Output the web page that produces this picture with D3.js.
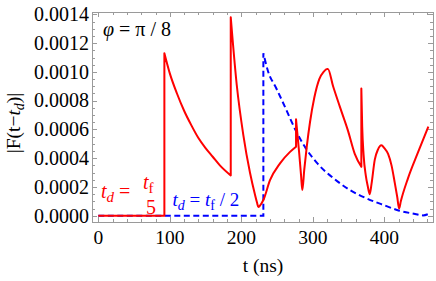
<!DOCTYPE html>
<html><head><meta charset="utf-8">
<script src="https://cdn.jsdelivr.net/npm/d3@7"></script>
</head>
<body style="margin:0;padding:0;background:#fff">
<svg id="chart" width="436" height="281" style="display:block"></svg>
<script>
// ---- data ----
const xTickValues = [0, 100, 200, 300, 400];
const yTickValues = [0, 0.0002, 0.0004, 0.0006, 0.0008, 0.0010, 0.0012, 0.0014];

// red series: t_d = t_f/5
const redT = [0, 92.4, 92.4, 100, 110, 120, 130, 140, 150, 160, 170, 185.2,
  185.2, 193.6, 202.8, 212.2, 219.2, 222, 223.8, 226, 230.8, 240.1, 254.1, 268.1, 276.5,
  276.5, 281, 283.5, 285.3, 288, 291.5, 296, 302, 309, 315, 320, 321, 328.3, 337.6, 349.2, 358.6, 367.8,
  367.8, 369, 371, 374, 377, 379.5, 382, 386.6, 391, 395.8, 400, 405.2, 410, 414.5, 418, 420.6, 423, 433, 447, 461.5];
const redV = [0, 0, 0.00113, 0.00099, 0.00085, 0.00073, 0.00063, 0.00054, 0.00047, 0.00041, 0.00035, 0.00028,
  0.00138, 0.000909, 0.000561, 0.000297, 0.000144, 0.00009, 0.00006, 0.00007, 0.000109, 0.000247, 0.000364, 0.000444, 0.00048,
  0.00067, 0.00043, 0.00028, 0.000178, 0.00032, 0.00048, 0.00065, 0.00082, 0.00095, 0.00100, 0.00102, 0.00102, 0.00090, 0.00076, 0.00059, 0.00043, 0.00034,
  0.000885, 0.00062, 0.00042, 0.00028, 0.00020, 0.00015, 0.00022, 0.00039, 0.00046, 0.00049, 0.00047, 0.00043, 0.00035, 0.00023, 0.00013, 0.00005, 0.0001, 0.00026, 0.00044, 0.00062];

// blue series: t_d = t_f/2
const blueT = [0, 230.8, 230.8, 237, 249, 261, 277, 290, 307, 329, 352, 375, 399, 421, 443, 454, 461.5];
const blueV = [0, 0, 0.00113, 0.00101, 0.000885, 0.000757, 0.000583, 0.00047, 0.00036, 0.00026, 0.000178, 0.000121, 0.000074, 0.000035, 0.000012, 0.000002, 0.000012];

// ---- layout ----
const FONT = "'Liberation Serif'";
const svg = d3.select("#chart");
const L = 92, R = 433, T = 12, B = 222;
const x = d3.scaleLinear().domain([-8.8, 468]).range([L, R]);
const y = d3.scaleLinear().domain([-0.0000438, 0.0014167]).range([B, T]);
const frameColor = "#9a9a9a";

// ticks
const xMinor = d3.range(0, 468, 20).filter(v => v % 100 !== 0);
const yMinor = d3.range(0, 0.00141, 0.00005).filter(v => Math.abs(v / 0.0002 - Math.round(v / 0.0002)) > 1e-6);
const g = svg.append("g");
function tick(x1, y1, x2, y2) {
  g.append("line").attr("x1", x1).attr("y1", y1).attr("x2", x2).attr("y2", y2)
    .attr("stroke", frameColor).attr("stroke-width", 1);
}
xTickValues.forEach(v => { const px = Math.round(x(v)) + 0.5; tick(px, B, px, B - 5); tick(px, T, px, T + 5); });
xMinor.forEach(v => { const px = Math.round(x(v)) + 0.5; tick(px, B, px, B - 3); tick(px, T, px, T + 3); });
yTickValues.forEach(v => { const py = Math.round(y(v)) + 0.5; tick(L, py, L + 5, py); tick(R, py, R - 5, py); });
yMinor.forEach(v => { const py = Math.round(y(v)) + 0.5; tick(L, py, L + 3, py); tick(R, py, R - 3, py); });

g.append("rect").attr("x", L + 0.5).attr("y", T + 0.5).attr("width", R - L).attr("height", B - T)
  .attr("fill", "none").attr("stroke", frameColor).attr("stroke-width", 1);

function txt(xp, yp, size, color) {
  return svg.append("text").attr("x", xp).attr("y", yp).attr("font-size", size)
    .style("font-family", FONT).attr("fill", color || "#000");
}

// tick labels
const fmt = d3.format(".4f");
yTickValues.forEach(v => txt(89, y(v), 20).attr("dy", "0.34em").attr("text-anchor", "end").text(fmt(v)));
xTickValues.forEach(v => txt(x(v), 244, 19.5).attr("text-anchor", "middle").text(v));

// axis titles
txt(263, 272, 19.5).attr("text-anchor", "middle").text("t (ns)");
const yl = svg.append("text").attr("transform", "translate(20,123) rotate(-90)")
  .attr("text-anchor", "middle").attr("font-size", 19.5).style("font-family", FONT);
yl.append("tspan").text("|F(t\u2212");
yl.append("tspan").attr("font-style", "italic").text("t");
yl.append("tspan").attr("font-style", "italic").attr("font-size", 14).attr("dy", 4).text("d");
yl.append("tspan").attr("dy", -4).text(")|");

// curves
const line = d3.line().x(d => x(d[0])).y(d => y(d[1])).curve(d3.curveMonotoneX);
function pathFor(Ts, Vs) {
  const segs = []; let cur = [];
  Ts.forEach((t, i) => {
    if (i > 0 && t === Ts[i - 1]) { segs.push(cur); cur = []; }
    cur.push([t, Vs[i]]);
  });
  segs.push(cur);
  let d = "";
  segs.forEach((s, i) => { let sd = line(s); if (i > 0) sd = "L" + sd.slice(1); d += sd; });
  return d;
}
const plot = svg.append("g");
plot.append("path").attr("d", pathFor(blueT, blueV)).attr("fill", "none")
  .attr("stroke", "#0000ff").attr("stroke-width", 2).attr("stroke-dasharray", "6,3.5");
plot.append("path").attr("d", pathFor(redT, redV)).attr("fill", "none")
  .attr("stroke", "#ff0000").attr("stroke-width", 2).attr("stroke-linejoin", "round");

// annotations
const phi = txt(103, 36, 20);
phi.append("tspan").attr("font-style", "italic").text("\u03C6");
phi.append("tspan").text(" = \u03C0 / 8");

// red label
const red = "#ff0000";
const r1 = txt(101, 198, 20, red);
r1.append("tspan").attr("font-style", "italic").text("t");
r1.append("tspan").attr("font-style", "italic").attr("font-size", 15).attr("dy", 4).text("d");
r1.append("tspan").attr("dy", -4).text(" = ");
const r2 = txt(143, 189, 20, red);
r2.append("tspan").attr("font-style", "italic").text("t");
r2.append("tspan").attr("font-size", 15).attr("dy", 4).text("f");
txt(151, 214, 20, red).attr("text-anchor", "middle").text("5");

// blue label
const blue = "#0000ff";
const b1 = txt(172.5, 206, 19, blue);
b1.append("tspan").attr("font-style", "italic").text("t");
b1.append("tspan").attr("font-style", "italic").attr("font-size", 14).attr("dy", 4).text("d");
b1.append("tspan").attr("dy", -4).text(" = ");
b1.append("tspan").attr("font-style", "italic").text("t");
b1.append("tspan").attr("font-size", 14).attr("dy", 4).text("f");
b1.append("tspan").attr("dy", -4).text(" / 2");
</script>
</body></html>
